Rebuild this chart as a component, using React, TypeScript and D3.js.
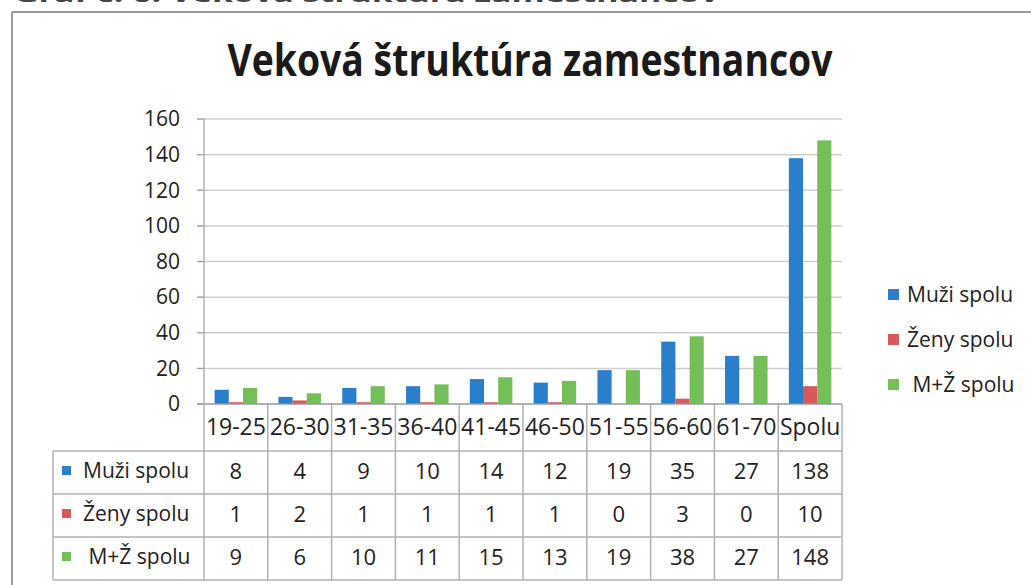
import React from "react";
import * as d3 from "d3";

const categories = ["19-25", "26-30", "31-35", "36-40", "41-45", "46-50", "51-55", "56-60", "61-70", "Spolu"];
const muzi = [8, 4, 9, 10, 14, 12, 19, 35, 27, 138];
const zeny = [1, 2, 1, 1, 1, 1, 0, 3, 0, 10];
const spolu = [9, 6, 10, 11, 15, 13, 19, 38, 27, 148];
const seriesNames = ["Muži spolu", "Ženy spolu", " M+Ž spolu"];
const yTicks = [0, 20, 40, 60, 80, 100, 120, 140, 160];
const title = "Veková štruktúra zamestnancov";
const caption = "Graf č. 6: Veková štruktúra zamestnancov";

const colors = ["#2b7fca", "#d65a5a", "#74c058"];
const FONT = "'Open Sans', sans-serif";

export default function App() {
  const W = 1031, H = 585;
  const x = d3.scaleBand<string>().domain(categories).range([204, 842]).paddingInner(0).paddingOuter(0);
  const y = d3.scaleLinear().domain([0, 160]).range([404, 119]);
  const band = x.bandwidth();
  const bw = band / 4.5;
  const series = [muzi, zeny, spolu];

  const tableLeft = 53;
  const tableRight = 842;
  const rowLines = [451, 494, 537, 580];
  const headerTop = 404;

  return (
    <div style={{ position: "absolute", left: 0, top: 0 }}>
      <svg width={W} height={H} style={{ display: "block", background: "#fff" }}>
        {/* cut-off caption (only its lower edge is visible, as in the scan) */}
        <text x={14} y={2} fontFamily={FONT} fontWeight={700} fontSize={22} fill="#444"
          textLength={705} lengthAdjust="spacingAndGlyphs">{caption}</text>
        {/* outer frame */}
        <line x1={12} y1={12} x2={W} y2={12} stroke="#9a9a9a" strokeWidth={2} />
        <line x1={12} y1={12} x2={12} y2={H} stroke="#9a9a9a" strokeWidth={2} />

        {/* title */}
        <text x={530} y={76} textAnchor="middle" fontFamily={FONT} fontWeight={700} fontSize={44}
          fill="#1a1a1a" textLength={605} lengthAdjust="spacingAndGlyphs">{title}</text>

        {/* gridlines */}
        {yTicks.map((t) => (
          <g key={t}>
            {t > 0 && <line x1={197} x2={842} y1={y(t)} y2={y(t)} stroke="#cfcfcf" strokeWidth={1.5} />}
            <line x1={197} x2={204} y1={y(t)} y2={y(t)} stroke="#999" strokeWidth={1} />
            <text x={180} y={y(t)} dy="0.35em" textAnchor="end" fontFamily={FONT} fontSize={21} fill="#222">{t}</text>
          </g>
        ))}

        {/* bars */}
        {series.map((vals, si) =>
          vals.map((v, i) => (
            <rect key={`${si}-${i}`} x={(x(categories[i]) as number) + 0.75 * bw + si * bw}
              y={y(v)} width={bw} height={Math.max(0, y(0) - y(v))} fill={colors[si]} />
          ))
        )}

        {/* axis line */}
        <line x1={197} x2={842} y1={y(0)} y2={y(0)} stroke="#999" strokeWidth={1.5} />
        <line x1={204} x2={204} y1={119} y2={rowLines[3]} stroke="#b0b0b0" strokeWidth={1.5} />

        {/* table */}
        {categories.map((c, i) => (
          <g key={c}>
            <line x1={(x(c) as number) + band} x2={(x(c) as number) + band} y1={headerTop} y2={rowLines[3]}
              stroke="#b0b0b0" strokeWidth={1.5} />
            <text x={(x(c) as number) + band / 2} y={435} textAnchor="middle" fontFamily={FONT} fontSize={23}
              fill="#222">{c}</text>
            {series.map((vals, si) => (
              <text key={si} x={(x(c) as number) + band / 2} y={479 + si * 43} textAnchor="middle"
                fontFamily={FONT} fontSize={22} fill="#222">{vals[i]}</text>
            ))}
          </g>
        ))}
        {rowLines.map((ry) => (
          <line key={ry} x1={tableLeft} x2={tableRight} y1={ry} y2={ry} stroke="#b0b0b0" strokeWidth={1.5} />
        ))}
        <line x1={tableLeft} x2={tableLeft} y1={rowLines[0]} y2={rowLines[3]} stroke="#b0b0b0" strokeWidth={1.5} />
        {seriesNames.map((n, si) => (
          <g key={n}>
            <rect x={62} y={466 + si * 43} width={9} height={9} fill={colors[si]} />
            <text x={83} y={478 + si * 43} fontFamily={FONT} fontSize={21} fill="#222"
              style={{ whiteSpace: "pre" }}>{n}</text>
          </g>
        ))}

        {/* legend */}
        {seriesNames.map((n, si) => (
          <g key={"lg" + n}>
            <rect x={888} y={289 + si * 45} width={11} height={11} fill={colors[si]} />
            <text x={907} y={302 + si * 45} fontFamily={FONT} fontSize={21} fill="#222"
              style={{ whiteSpace: "pre" }}>{n}</text>
          </g>
        ))}
      </svg>
    </div>
  );
}
